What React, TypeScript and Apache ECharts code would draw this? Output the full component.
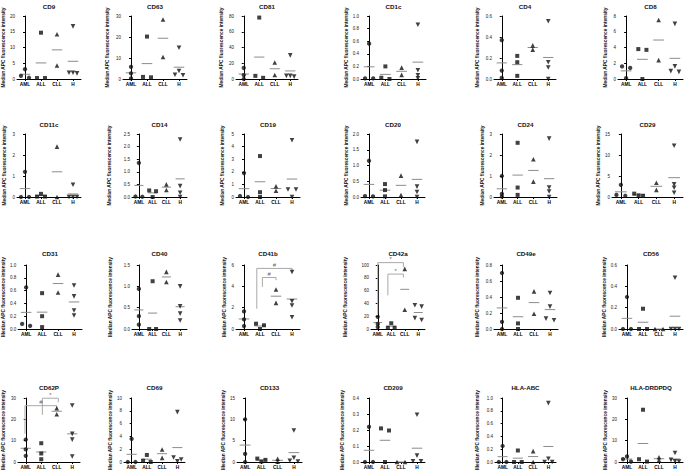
import React, { useEffect, useRef } from "react";
import * as echarts from "echarts";

// ---------- data ----------
const groups = ["AML", "ALL", "CLL", "H"];
const panelNames = [
  "CD9", "CD63", "CD81", "CD1c", "CD4", "CD8",
  "CD11c", "CD14", "CD19", "CD20", "CD24", "CD29",
  "CD31", "CD40", "CD41b", "CD42a", "CD49e", "CD56",
  "CD62P", "CD69", "CD133", "CD209", "HLA-ABC", "HLA-DRDPDQ",
];
const yMax = [20, 30, 80, 1, 0.6, 8, 3, 2.5, 5, 2, 3, 15, 1, 1.5, 6, 100, 0.8, 0.6, 30, 10, 15, 0.4, 1, 30];
const yStep = [5, 10, 20, 0.2, 0.2, 2, 1, 0.5, 1, 0.5, 1, 5, 0.2, 0.5, 2, 20, 0.2, 0.2, 10, 2, 5, 0.1, 0.2, 10];

// values per group: [AML, ALL, CLL, H]
const CD9 = [[3.1, 1.0, 0.4], [14.7, 0.3, 0.3], [14.2, 4.3], [16.7, 2.0, 2.0, 1.8]];
const CD63 = [[5.8, 2.7, 0.3], [20.2, 1.0, 0.8], [28.3, 10.5], [14.9, 3.8, 2.0, 1.8]];
const CD81 = [[14, 5, 0], [78, 4, 1.5], [21, 5], [30, 4, 4, 3]];
const CD1c = [[0.56, 0.01, 0.01], [0.2, 0.02, 0.0], [0.18, 0.065], [0.86, 0.14, 0.06, 0.01]];
const CD4 = [[0.37, 0.08, 0.01], [0.22, 0.16, 0.03], [0.32, 0.28], [0.55, 0.16, 0.11, 0.0]];
const CD8 = [[1.6, 1.4, 0.1], [3.8, 3.7, 0.0], [7.5, 2.4], [7.0, 1.6, 1.0, 0.9]];
const CD11c = [[1.2, 0, 0], [0.15, 0.02, 0.02], [2.4, 0], [0.58, 0, 0, 0]];
const CD14 = [[1.35, 0.02, 0.01], [0.26, 0.23, 0.0], [0.5, 0.28], [2.28, 0.43, 0.17, 0.0]];
const CD19 = [[1.9, 0.08, 0.0], [3.25, 0.38, 0.0], [0.85, 0.5], [4.5, 0.6, 0.6, 0.0]];
const CD20 = [[1.15, 0.03, 0.02], [0.41, 0.22, 0.02], [0.68, 0.06], [1.75, 0.33, 0.16, 0.0]];
const CD24 = [[1.0, 0.15, 0.02], [2.58, 0.45, 0.1], [1.8, 0.73], [2.78, 0.45, 0.26, 0.0]];
const CD29 = [[2.9, 0.5, 0.3], [0.8, 0.4, 0.3], [3.4, 1.7], [12.2, 3.0, 2.2, 1.0]];
const CD31 = [[0.65, 0.08, 0.05], [0.56, 0.2, 0.03], [0.85, 0.57], [0.68, 0.51, 0.29, 0.21]];
const CD40 = [[0.94, 0.3, 0.1], [1.12, 0, 0], [1.34, 1.1], [1.0, 0.53, 0.36, 0.2]];
const CD41b = [[1.65, 0.9, 0.28], [0.5, 0.35, 0.0], [3.7, 2.45], [5.35, 2.6, 2.2, 1.1]];
const CD42a = [[19, 8, 3], [9, 2, 2], [94, 30], [37, 35, 17, 14]];
const CD49e = [[0.7, 0.09, 0.0], [0.39, 0.07, 0.0], [0.47, 0.19], [0.45, 0.28, 0.13, 0.11]];
const CD56 = [[0.3, 0, 0], [0.19, 0, 0], [0, 0], [0.48, 0, 0, 0]];
const CD62P = [[10.5, 5.9, 2.9], [8.8, 4.0, 1.3], [25.2, 22.4], [26.5, 13.2, 10.5, 2.6]];
const CD69 = [[3.6, 0, 0], [1.1, 0.2, 0], [1.95, 0.65], [7.8, 0.7, 0.4, 0.1]];
const CD133 = [[10.0, 1.9, 0.0], [0.8, 0.5, 0.1], [0.75, 0.05], [7.4, 1.0, 0.3, 0.1]];
const CD209 = [[0.22, 0, 0], [0.21, 0.197, 0.0], [0, 0], [0.295, 0.04, 0.005, 0.005]];
const HLA_ABC = [[0.25, 0, 0], [0.18, 0, 0], [0.17, 0], [0.92, 0.05, 0, 0]];
const HLA_DR = [[2.6, 1.3, 0.2], [24.5, 1.3, 0.2], [2.2, 0.9], [4.2, 1.0, 0.3, 0.2]];

const panelValues = [
  CD9, CD63, CD81, CD1c, CD4, CD8,
  CD11c, CD14, CD19, CD20, CD24, CD29,
  CD31, CD40, CD41b, CD42a, CD49e, CD56,
  CD62P, CD69, CD133, CD209, HLA_ABC, HLA_DR,
];

// significance brackets: [fromCategory, toCategory, topValue, fromLegEnd, toLegEnd]
const sigCD41b = [[0.8, 3.0, 5.68, 1.9, 5.37], [1.15, 2.0, 4.83, 3.95, 4.58]];
const sigCD41bMarks = ["#", "#"];
const sigCD42a = [[0.0, 1.9, 103.7, 23.7, 97], [0.75, 1.9, 85.8, 52.6, 80.5]];
const sigCD42aMarks = ["*", "*"];
const sigCD62P = [[-0.05, 2.0, 26.4, 13.2, 25.0], [1.07, 2.1, 29.9, 22.1, 28.0]];
const sigCD62PMarks = ["#", "*"];
const sigPanels = [14, 15, 18];
const sigRows = [sigCD41b, sigCD42a, sigCD62P];
const sigMarks = [sigCD41bMarks, sigCD42aMarks, sigCD62PMarks];

// ---------- layout ----------
const gridLeft = [17, 123, 236, 361, 494, 618, 17, 132, 236, 361, 494, 612, 18, 132, 236, 371, 494, 619, 18, 124, 237, 361, 495, 619];
const gridRight = [81, 187, 298, 426, 556, 683, 81, 187, 300, 425, 557, 683, 82, 187, 300, 425, 558, 683, 80, 185, 302, 425, 556, 683];
const nameX = [5, 108, 222, 351, 478, 606, 5, 110, 223, 351, 483, 606, 4, 111, 225, 346, 478, 606, 4, 113, 225, 343, 478, 606];
const rowTop = [16, 134, 265, 398];
const rowBottom = [79, 197, 329, 462];
const titleY = [6, 124, 253, 387];

const FONT = "'Liberation Sans', Arial, Helvetica, sans-serif";
const groupSymbol = ["circle", "rect", "triangle", "triangle"];
const groupRotate = [0, 0, 0, 180];
const groupSize = [4.3, 4, 4.6, 4.6];
const MEAN_COLOR = "#8c8c8c";
const SIG_COLOR = "#a9a9a9";

function swarmOffsets(vals: number[], max: number): number[] {
  const order = vals.map((_, i) => i).sort((a, b) => vals[b] - vals[a]);
  const out = new Array(vals.length).fill(0);
  let k = 0;
  while (k < order.length) {
    const start = k;
    const top = vals[order[k]];
    while (k < order.length && top - vals[order[k]] <= max * 0.04) k++;
    const n = k - start;
    const spread = n <= 1 ? 0 : Math.max(0.5, 0.22 * (n - 1));
    for (let j = 0; j < n; j++) {
      out[order[start + j]] = n === 1 ? 0 : -spread / 2 + (spread * j) / (n - 1);
    }
  }
  return out;
}

function buildOption() {
  const grid: any[] = [];
  const xAxis: any[] = [];
  const yAxis: any[] = [];
  const series: any[] = [];
  const graphic: any[] = [];

  panelNames.forEach((name, p) => {
    const row = Math.floor(p / 6);
    const left = gridLeft[p];
    const width = gridRight[p] - gridLeft[p];
    const top = rowTop[row];
    const height = rowBottom[row] - rowTop[row];
    grid.push({ left, top, width, height });

    xAxis.push({
      type: "category",
      gridIndex: p,
      data: groups,
      boundaryGap: true,
      axisLine: { show: true, lineStyle: { color: "#000", width: 1 } },
      axisTick: { show: true, alignWithLabel: true, length: 2, lineStyle: { color: "#000" } },
      axisLabel: { interval: 0, fontSize: 4.8, fontWeight: "bold", color: "#000", margin: 2.5, fontFamily: FONT },
      splitLine: { show: false },
    });
    xAxis.push({ type: "value", gridIndex: p, min: -0.5, max: 3.5, show: false });

    const step = yStep[p];
    yAxis.push({
      type: "value",
      gridIndex: p,
      min: 0,
      max: yMax[p],
      interval: step,
      name: "Median APC fluorescence intensity",
      nameLocation: "middle",
      nameRotate: 90,
      nameGap: left - nameX[p] - 2.4,
      nameTextStyle: { fontSize: 4.8, fontWeight: "bold", color: "#111", fontFamily: FONT },
      axisLine: { show: true, lineStyle: { color: "#000", width: 1 } },
      axisTick: { show: true, length: 2, lineStyle: { color: "#000" } },
      axisLabel: {
        fontSize: 4.5,
        color: "#222",
        margin: 2,
        fontFamily: FONT,
        formatter: (v: number) => (step < 1 ? v.toFixed(1) : String(Math.round(v))),
      },
      splitLine: { show: false },
    });

    graphic.push({
      type: "text",
      x: (gridLeft[p] + gridRight[p]) / 2,
      y: titleY[row],
      style: {
        text: name,
        align: "center",
        verticalAlign: "middle",
        fontSize: 6.2,
        fontWeight: "bold",
        fontFamily: FONT,
        fill: "#111",
      },
    });

    const vals = panelValues[p];
    const points: any[] = [];
    const means: number[][] = [];
    vals.forEach((arr, g) => {
      const offs = swarmOffsets(arr, yMax[p]);
      arr.forEach((v, i) => {
        points.push({
          value: [g + offs[i], v],
          symbol: groupSymbol[g],
          symbolRotate: groupRotate[g],
          symbolSize: groupSize[g],
        });
      });
      means.push([g, arr.reduce((s, v) => s + v, 0) / arr.length]);
    });

    series.push({
      type: "custom",
      xAxisIndex: 2 * p + 1,
      yAxisIndex: p,
      z: 1,
      clip: false,
      data: means,
      encode: { x: 0, y: 1 },
      renderItem: (params: any, api: any) => {
        const c = api.coord([api.value(0), api.value(1)]);
        const half = api.size([1, 0])[0] * 0.33;
        return {
          type: "line",
          shape: { x1: c[0] - half, y1: c[1], x2: c[0] + half, y2: c[1] },
          style: { stroke: MEAN_COLOR, lineWidth: 1 },
        };
      },
    });

    series.push({
      type: "scatter",
      xAxisIndex: 2 * p + 1,
      yAxisIndex: p,
      z: 3,
      clip: false,
      itemStyle: { color: "#111" },
      data: points,
    });

    const si = sigPanels.indexOf(p);
    if (si >= 0) {
      const rows = sigRows[si];
      const marks = sigMarks[si];
      rows.forEach((r) => {
        const [x1, x2, yt, y1, y2] = r;
        series.push({
          type: "line",
          xAxisIndex: 2 * p + 1,
          yAxisIndex: p,
          z: 2,
          clip: false,
          symbol: "none",
          silent: true,
          lineStyle: { color: SIG_COLOR, width: 1 },
          itemStyle: { color: SIG_COLOR },
          data: [[x1, y1], [x1, yt], [x2, yt], [x2, y2]],
        });
      });
      series.push({
        type: "scatter",
        xAxisIndex: 2 * p + 1,
        yAxisIndex: p,
        z: 2,
        clip: false,
        silent: true,
        symbolSize: 0.01,
        itemStyle: { color: "rgba(0,0,0,0)" },
        label: {
          show: true,
          position: "top",
          distance: 0.5,
          formatter: "{b}",
          fontSize: 6,
          fontFamily: FONT,
          color: "#333",
        },
        data: rows.map((r, i) => ({ name: marks[i], value: [(r[0] + r[1]) / 2, r[2]] })),
      });
    }
  });

  return {
    animation: false,
    backgroundColor: "#fff",
    grid,
    xAxis,
    yAxis,
    series,
    graphic,
  };
}

export default function App() {
  const ref = useRef<HTMLDivElement>(null);
  useEffect(() => {
    if (!ref.current) return;
    const chart = echarts.init(ref.current, undefined, { renderer: "svg" });
    chart.setOption(buildOption() as any);
    return () => chart.dispose();
  }, []);
  return (
    <div
      ref={ref}
      style={{ position: "fixed", left: 0, top: 0, width: 685, height: 474, background: "#fff" }}
    />
  );
}
